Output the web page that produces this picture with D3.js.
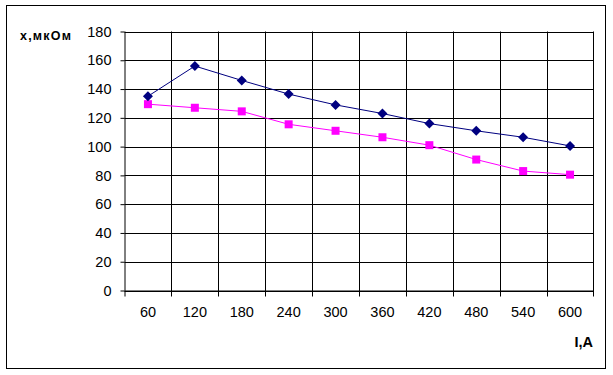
<!DOCTYPE html>
<html>
<head>
<meta charset="utf-8">
<script src="https://cdn.jsdelivr.net/npm/d3@7"></script>
<style>
  html, body { margin: 0; padding: 0; background: #fff; }
  svg { display: block; }
</style>
</head>
<body>
<svg id="chart" width="613" height="375"></svg>
<script>
const categories = ["60", "120", "180", "240", "300", "360", "420", "480", "540", "600"];
const seriesBlue = [135, 156, 146, 136.5, 129, 123, 116, 111, 106.5, 100.5];
const seriesMagenta = [129.5, 127, 124.5, 115.5, 111, 106.5, 101, 91, 83, 80.5];
const yTicks = [0, 20, 40, 60, 80, 100, 120, 140, 160, 180];
const yLabel = "х,мкОм";
const xLabel = "I,A";

(function () {
const svg = d3.select("#chart");
const font = "'Liberation Sans', Arial, sans-serif";

// outer frame
svg.append("rect")
  .attr("x", 6.5).attr("y", 5.5)
  .attr("width", 599).attr("height", 363)
  .attr("fill", "#fff").attr("stroke", "#000").attr("stroke-width", 1);

const pLeft = 124.5, pRight = 593.5, pTop = 31.5, pBottom = 290.5;

const x = d3.scaleBand().domain(categories).range([pLeft, pRight]).padding(0);
const y = d3.scaleLinear().domain([0, 180]).range([pBottom, pTop]);

// horizontal gridlines
svg.append("g").selectAll("line").data(yTicks).join("line")
  .attr("x1", pLeft).attr("x2", pRight)
  .attr("y1", d => Math.round(y(d)) + 0.5).attr("y2", d => Math.round(y(d)) + 0.5)
  .attr("stroke", "#000").attr("stroke-width", 1);

// vertical gridlines at band boundaries
const bounds = categories.map(c => x(c) + x.bandwidth());
svg.append("g").selectAll("line").data(bounds).join("line")
  .attr("x1", d => Math.round(d) + 0.5).attr("x2", d => Math.round(d) + 0.5)
  .attr("y1", pTop).attr("y2", pBottom + 6)
  .attr("stroke", "#000").attr("stroke-width", 1);

// y axis
const yAxis = d3.axisLeft(y).tickValues(yTicks).tickSize(4).tickPadding(9);
const gy = svg.append("g").attr("transform", `translate(${pLeft},0)`).call(yAxis);
gy.select(".domain").attr("stroke", "#000").attr("d", `M0.5,${pTop}V${pBottom}`);
gy.selectAll(".tick line").attr("stroke", "#000");
gy.selectAll(".tick text").attr("font-family", font).attr("font-size", 14.5).attr("fill", "#000");

// x axis
const xAxis = d3.axisBottom(x).tickSize(0).tickPadding(16.5);
const gx = svg.append("g").attr("transform", `translate(0,${pBottom})`).call(xAxis);
gx.select(".domain").attr("stroke", "#000").attr("d", `M${pLeft},0.5H${pRight}`);
gx.selectAll(".tick text").attr("font-family", font).attr("font-size", 14.5).attr("fill", "#000");
svg.append("line").attr("x1", pLeft + 0.5).attr("x2", pLeft + 0.5)
  .attr("y1", pBottom).attr("y2", pBottom + 6).attr("stroke", "#000");

const cx = c => x(c) + x.bandwidth() / 2;

// magenta series
const lineM = d3.line().x((d, i) => cx(categories[i])).y(d => y(d));
svg.append("path").datum(seriesMagenta).attr("d", lineM)
  .attr("fill", "none").attr("stroke", "#ff00ff").attr("stroke-width", 1);
svg.append("g").selectAll("rect").data(seriesMagenta).join("rect")
  .attr("x", (d, i) => cx(categories[i]) - 4).attr("y", d => y(d) - 4)
  .attr("width", 8).attr("height", 8).attr("fill", "#ff00ff");

// blue series
const lineB = d3.line().x((d, i) => cx(categories[i])).y(d => y(d));
svg.append("path").datum(seriesBlue).attr("d", lineB)
  .attr("fill", "none").attr("stroke", "#000080").attr("stroke-width", 1);
svg.append("g").selectAll("path.m").data(seriesBlue).join("path")
  .attr("class", "m")
  .attr("d", (d, i) => {
    const px = cx(categories[i]), py = y(d);
    return `M${px},${py - 5}L${px + 5},${py}L${px},${py + 5}L${px - 5},${py}Z`;
  })
  .attr("fill", "#000080");

// axis titles
svg.append("text").attr("x", 20).attr("y", 40)
  .attr("font-family", font).attr("font-weight", "bold").attr("font-size", 12.5)
  .attr("letter-spacing", 1.2).attr("fill", "#000").text(yLabel);
svg.append("text").attr("x", 593).attr("y", 347).attr("text-anchor", "end")
  .attr("font-family", font).attr("font-weight", "bold").attr("font-size", 14.5)
  .attr("fill", "#000").text(xLabel);
})();
</script>
</body>
</html>
